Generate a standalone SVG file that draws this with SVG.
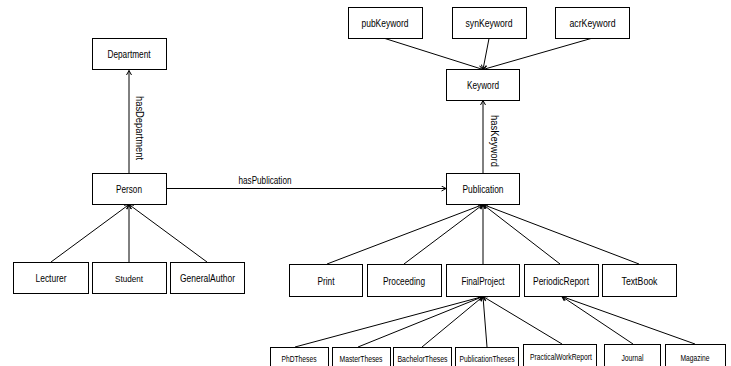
<svg xmlns="http://www.w3.org/2000/svg" width="731" height="366" viewBox="0 0 731 366">
<style>
rect{fill:#fff;stroke:#000;stroke-width:1}
text{font-family:"Liberation Sans",Arial,sans-serif;font-size:11px;fill:#000;text-anchor:middle}
text.s{font-size:9px}
#connectors line{stroke:#000;stroke-width:1;marker-end:url(#arr)}
</style>
<defs>
<marker id="arr" markerUnits="userSpaceOnUse" markerWidth="8" markerHeight="8" refX="5" refY="3" orient="auto">
<path d="M0.5,0.5 L5,3 L0.5,5.5" fill="none" stroke="#000" stroke-width="1"/>
</marker>
</defs>
<rect x="0" y="0" width="731" height="366" style="stroke:none"/>
<g id="connectors">
<line x1="129" y1="173" x2="129" y2="70.5"/>
<line x1="51" y1="262" x2="129" y2="204.5"/>
<line x1="129" y1="262" x2="129" y2="204.5"/>
<line x1="207" y1="262" x2="129" y2="204.5"/>
<line x1="166" y1="188.5" x2="446" y2="188.5"/>
<line x1="483" y1="173" x2="483" y2="100.5"/>
<line x1="385" y1="38.5" x2="483" y2="69.5"/>
<line x1="489" y1="38.5" x2="483" y2="69.5"/>
<line x1="591" y1="38.5" x2="483" y2="69.5"/>
<line x1="327" y1="264" x2="483" y2="204.5"/>
<line x1="404" y1="264" x2="483" y2="204.5"/>
<line x1="483" y1="264" x2="483" y2="204.5"/>
<line x1="560" y1="264" x2="483" y2="204.5"/>
<line x1="639" y1="264" x2="483" y2="204.5"/>
<line x1="295" y1="347" x2="483" y2="296.5"/>
<line x1="358" y1="347" x2="483" y2="296.5"/>
<line x1="422" y1="347" x2="483" y2="296.5"/>
<line x1="487" y1="347" x2="483" y2="296.5"/>
<line x1="562" y1="344" x2="483" y2="296.5"/>
<line x1="633" y1="344" x2="562" y2="296.5"/>
<line x1="695" y1="344" x2="562" y2="296.5"/>
<text transform="translate(136,128) rotate(90)" textLength="64" lengthAdjust="spacingAndGlyphs">hasDepartment</text>
<text x="265" y="183.5" textLength="53" lengthAdjust="spacingAndGlyphs">hasPublication</text>
<text transform="translate(491,141) rotate(90)" textLength="52" lengthAdjust="spacingAndGlyphs">hasKeyword</text>
</g>
<g id="Department"><rect x="92.5" y="38.5" width="74" height="31"/><text x="129" y="58" textLength="43" lengthAdjust="spacingAndGlyphs">Department</text></g>
<g id="Person"><rect x="92.5" y="173.5" width="74" height="31"/><text x="129" y="192.5" textLength="26" lengthAdjust="spacingAndGlyphs">Person</text></g>
<g id="Lecturer"><rect x="13.5" y="262.5" width="75" height="31"/><text x="51" y="281.5" textLength="31" lengthAdjust="spacingAndGlyphs">Lecturer</text></g>
<g id="Student"><rect x="92.5" y="262.5" width="74" height="31"/><text class="s" x="129" y="281.5" textLength="28" lengthAdjust="spacingAndGlyphs">Student</text></g>
<g id="GeneralAuthor"><rect x="170.5" y="262.5" width="74" height="31"/><text x="207.5" y="281.5" textLength="55" lengthAdjust="spacingAndGlyphs">GeneralAuthor</text></g>
<g id="pubKeyword"><rect x="348.5" y="7.5" width="74" height="31"/><text x="385" y="26.5" textLength="47" lengthAdjust="spacingAndGlyphs">pubKeyword</text></g>
<g id="synKeyword"><rect x="452.5" y="7.5" width="74" height="31"/><text x="489" y="26.5" textLength="47" lengthAdjust="spacingAndGlyphs">synKeyword</text></g>
<g id="acrKeyword"><rect x="555.5" y="7.5" width="74" height="31"/><text x="592.5" y="26.5" textLength="46" lengthAdjust="spacingAndGlyphs">acrKeyword</text></g>
<g id="Keyword"><rect x="446.5" y="69.5" width="73" height="31"/><text x="483" y="88.5" textLength="32" lengthAdjust="spacingAndGlyphs">Keyword</text></g>
<g id="Publication"><rect x="446.5" y="173.5" width="73" height="31"/><text x="483" y="192.5" textLength="41" lengthAdjust="spacingAndGlyphs">Publication</text></g>
<g id="Print"><rect x="289.5" y="264.5" width="73" height="32"/><text x="326" y="284.5" textLength="17" lengthAdjust="spacingAndGlyphs">Print</text></g>
<g id="Proceeding"><rect x="367.5" y="264.5" width="74" height="32"/><text x="404" y="284.5" textLength="42" lengthAdjust="spacingAndGlyphs">Proceeding</text></g>
<g id="FinalProject"><rect x="446.5" y="264.5" width="73" height="32"/><text x="483" y="284.5" textLength="43" lengthAdjust="spacingAndGlyphs">FinalProject</text></g>
<g id="PeriodicReport"><rect x="524.5" y="264.5" width="74" height="32"/><text x="561" y="284.5" textLength="56" lengthAdjust="spacingAndGlyphs">PeriodicReport</text></g>
<g id="TextBook"><rect x="602.5" y="264.5" width="74" height="32"/><text x="639.5" y="284.5" textLength="36" lengthAdjust="spacingAndGlyphs">TextBook</text></g>
<g id="PhDTheses"><rect x="270.5" y="347.5" width="58" height="25"/><text class="s" x="299" y="361.5" textLength="35" lengthAdjust="spacingAndGlyphs">PhDTheses</text></g>
<g id="MasterTheses"><rect x="332.5" y="347.5" width="58" height="25"/><text class="s" x="361" y="361.5" textLength="43" lengthAdjust="spacingAndGlyphs">MasterTheses</text></g>
<g id="BachelorTheses"><rect x="393.5" y="347.5" width="58" height="25"/><text class="s" x="422.5" y="361.5" textLength="50" lengthAdjust="spacingAndGlyphs">BachelorTheses</text></g>
<g id="PublicationTheses"><rect x="455.5" y="347.5" width="63" height="25"/><text class="s" x="487" y="361.5" textLength="55" lengthAdjust="spacingAndGlyphs">PublicationTheses</text></g>
<g id="PracticalWorkReport"><rect x="523.5" y="344.5" width="73" height="28"/><text class="s" x="561" y="360" textLength="62" lengthAdjust="spacingAndGlyphs">PracticalWorkReport</text></g>
<g id="Journal"><rect x="604.5" y="344.5" width="56" height="28"/><text class="s" x="632.5" y="360.5" textLength="22" lengthAdjust="spacingAndGlyphs">Journal</text></g>
<g id="Magazine"><rect x="665.5" y="344.5" width="60" height="28"/><text class="s" x="695" y="360.5" textLength="29" lengthAdjust="spacingAndGlyphs">Magazine</text></g>
</svg>
